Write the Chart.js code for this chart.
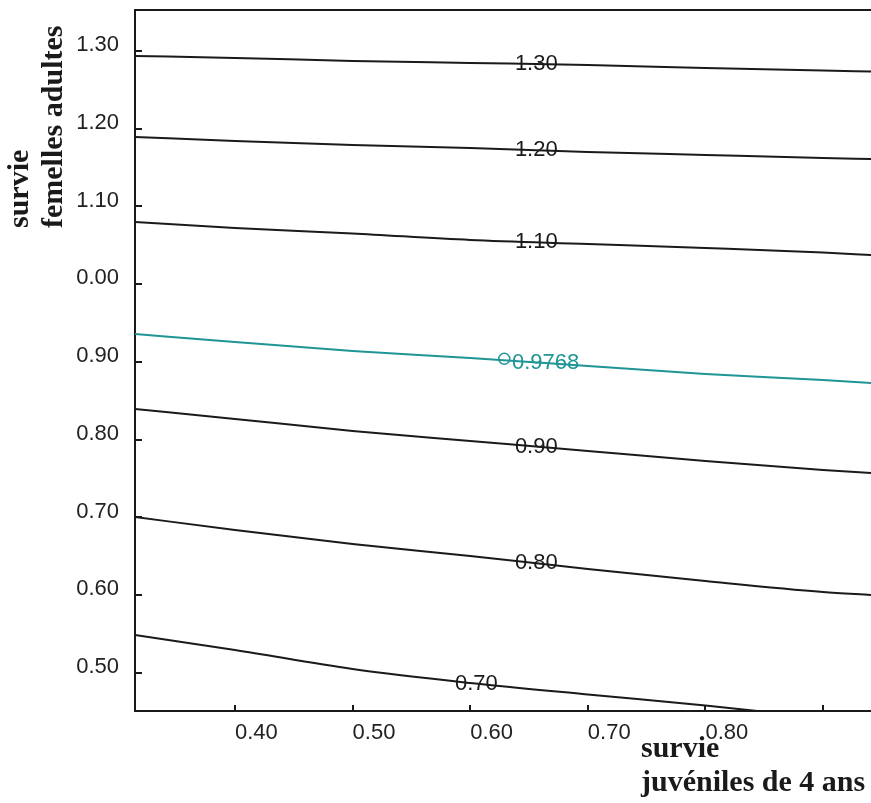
<!DOCTYPE html>
<html>
<head>
<meta charset="utf-8">
<script src="https://cdn.jsdelivr.net/npm/chart.js@4.4.1/dist/chart.umd.min.js"></script>
<style>
  html, body { margin: 0; padding: 0; background: #fff; overflow: hidden; }
  #wrap { width: 878px; height: 803px; position: relative; }
</style>
</head>
<body>
<div id="wrap"><canvas id="chartContours"></canvas></div>
<script>
// survie juvéniles (x) aux points de lecture des courbes
const xGrid = [0.315, 0.40, 0.50, 0.60, 0.70, 0.80, 0.90, 0.941];

// courbes d'isovaleur (survie femelles adultes)
const c130 = [1.2936, 1.2910, 1.2872, 1.2846, 1.2820, 1.2782, 1.2749, 1.2736];
const c120 = [1.1894, 1.1842, 1.1791, 1.1752, 1.1701, 1.1662, 1.1624, 1.1611];
const c110 = [1.0801, 1.0723, 1.0653, 1.0569, 1.0518, 1.0466, 1.0408, 1.0376];
const c09768 = [0.9360, 0.9257, 0.9141, 0.9051, 0.8949, 0.8846, 0.8769, 0.8730];
const c090 = [0.8396, 0.8267, 0.8113, 0.7984, 0.7855, 0.7727, 0.7611, 0.7572];
const c080 = [0.7006, 0.6839, 0.6659, 0.6505, 0.6338, 0.6183, 0.6042, 0.6003];
const c070 = [0.5489, 0.5296, 0.5051, 0.4871, 0.4723, 0.4582, 0.4421, 0.4363];

const niveaux = ['1.30', '1.20', '1.10', '0.9768', '0.90', '0.80', '0.70'];
const courbes = [c130, c120, c110, c09768, c090, c080, c070];
const labelX = [0.638, 0.638, 0.638, 0.6355, 0.638, 0.638, 0.587]; // debut du texte

// point actuel
const pointActuel = [{ x: 0.629, y: 0.904 }];

// graduations
const xTicks = [0.40, 0.50, 0.60, 0.70, 0.80, 0.90];
const xTickLabels = ['0.40', '0.50', '0.60', '0.70', '0.80', ''];
const yTicks = [0.50, 0.60, 0.70, 0.80, 0.90, 1.00, 1.10, 1.20, 1.30];
const yTickLabels = ['0.50', '0.60', '0.70', '0.80', '0.90', '0.00', '1.10', '1.20', '1.30'];

const NOIR = '#1a1a1a';
const TEAL = '#1f9595';
const TICK_FONT = '22px "Liberation Sans", Arial, sans-serif';
const TITLE_FONT = 'bold 30px "Liberation Serif", "Times New Roman", serif';

function interp(xs, ys, x) {
    for (let i = 0; i < xs.length - 1; i++) {
        if (x >= xs[i] && x <= xs[i + 1]) {
            const t = (x - xs[i]) / (xs[i + 1] - xs[i]);
            return ys[i] + t * (ys[i + 1] - ys[i]);
        }
    }
    return ys[ys.length - 1];
}

const datasets = courbes.map((c, i) => ({
    label: niveaux[i],
    data: xGrid.map((x, k) => ({ x: x, y: c[k] })),
    showLine: true,
    borderColor: niveaux[i] === '0.9768' ? TEAL : NOIR,
    borderWidth: 2,
    pointRadius: 0,
    cubicInterpolationMode: 'monotone'
}));
datasets.push({
    label: 'actuel',
    data: pointActuel,
    showLine: false,
    pointRadius: 5.5,
    pointBorderWidth: 1.5,
    pointBorderColor: TEAL,
    pointBackgroundColor: 'rgba(0,0,0,0)'
});

// cadre du haut, graduations vers l'interieur, etiquettes de courbes, titres
const decor = {
    id: 'decor',
    afterDraw(chart) {
        const { ctx, chartArea: a, scales: { x, y } } = chart;
        ctx.save();
        ctx.strokeStyle = NOIR;
        ctx.lineWidth = 2;
        ctx.beginPath();
        ctx.moveTo(a.left, a.top);
        ctx.lineTo(a.right, a.top);
        yTicks.forEach(v => {
            const py = Math.round(y.getPixelForValue(v));
            ctx.moveTo(a.left, py);
            ctx.lineTo(a.left + 7, py);
        });
        xTicks.forEach(v => {
            const px = Math.round(x.getPixelForValue(v));
            ctx.moveTo(px, a.bottom);
            ctx.lineTo(px, a.bottom - 6);
        });
        ctx.stroke();

        // etiquettes des courbes
        ctx.font = TICK_FONT;
        ctx.textBaseline = 'middle';
        ctx.textAlign = 'left';
        niveaux.forEach((txt, i) => {
            const px = x.getPixelForValue(labelX[i]);
            const w = ctx.measureText(txt).width;
            const xc = x.getValueForPixel(px + w / 2);
            const py = y.getPixelForValue(interp(xGrid, courbes[i], xc));
            ctx.fillStyle = txt === '0.9768' ? TEAL : NOIR;
            ctx.fillText(txt, px, py);
        });

        // titres des axes
        ctx.fillStyle = NOIR;
        ctx.font = TITLE_FONT;
        ctx.textBaseline = 'alphabetic';
        ctx.textAlign = 'left';
        ctx.fillText('survie', 641, 757);
        ctx.fillText('juvéniles de 4 ans', 641, 791);

        ctx.translate(0, 228);
        ctx.rotate(-Math.PI / 2);
        ctx.fillText('survie', 0, 28);
        ctx.fillText('femelles adultes', 0, 62);
        ctx.restore();
    }
};

new Chart(document.getElementById('chartContours'), {
    type: 'scatter',
    data: { datasets: datasets },
    options: {
        responsive: true,
        maintainAspectRatio: false,
        animation: false,
        layout: { padding: { top: 10, right: 0, left: 0, bottom: 0 } },
        plugins: { legend: { display: false }, tooltip: { enabled: false } },
        scales: {
            x: {
                type: 'linear',
                min: 0.315,
                max: 0.9408,
                afterBuildTicks: s => { s.ticks = xTicks.map(v => ({ value: v })); },
                afterFit: s => { s.height = 92; s.paddingLeft = 0; s.paddingRight = 0; },
                grid: { display: false },
                border: { display: true, color: NOIR, width: 2 },
                ticks: {
                    align: 'start',
                    padding: 1,
                    color: '#222',
                    font: { family: '"Liberation Sans", Arial, sans-serif', size: 22 },
                    callback: (v, i) => xTickLabels[i]
                }
            },
            y: {
                type: 'linear',
                min: 0.4511,
                max: 1.3527,
                afterBuildTicks: s => { s.ticks = yTicks.map(v => ({ value: v })); },
                afterFit: s => { s.width = 135; s.paddingTop = 0; s.paddingBottom = 0; },
                grid: { display: false },
                border: { display: true, color: NOIR, width: 2 },
                ticks: {
                    padding: 8,
                    labelOffset: -6,
                    color: '#222',
                    font: { family: '"Liberation Sans", Arial, sans-serif', size: 22 },
                    callback: (v, i) => yTickLabels[i]
                }
            }
        }
    },
    plugins: [decor]
});
</script>
</body>
</html>
